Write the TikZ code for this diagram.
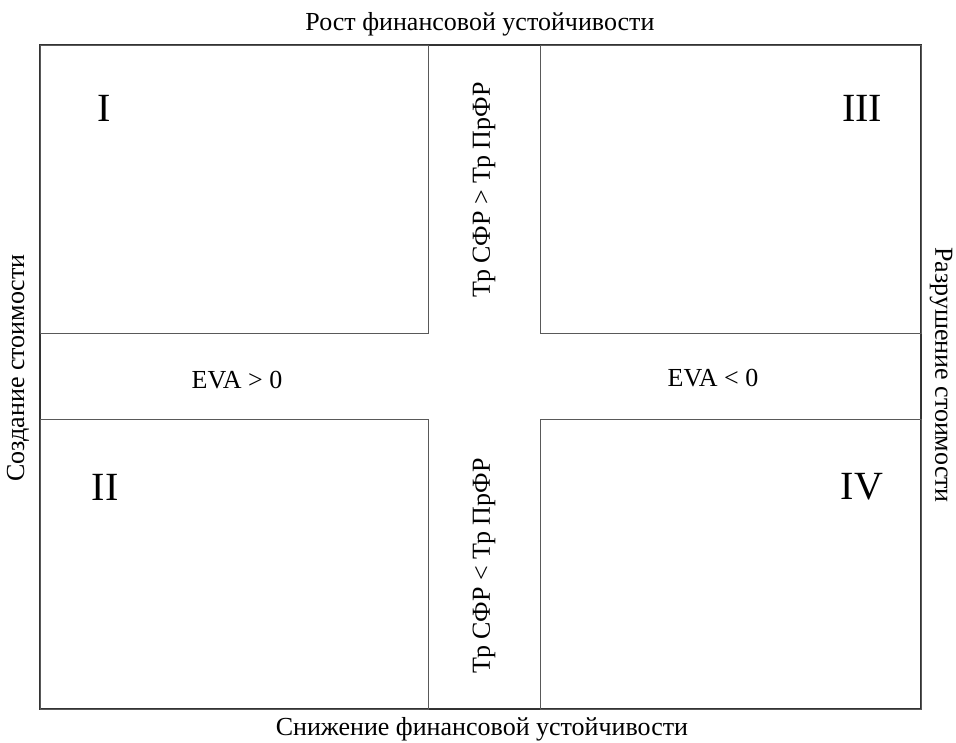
\documentclass[tikz,border=0pt]{standalone}
\usepackage{fontspec}
\setmainfont{Liberation Serif}
\usetikzlibrary{positioning}

\begin{document}
\begin{tikzpicture}[
    x=1pt, y=-1pt,
    quadrant/.style={rectangle, draw=black!65, line width=0.9pt, inner sep=0pt, outer sep=0pt},
    label/.style={font=\fontsize{26}{30}\selectfont, inner sep=0pt},
    numeral/.style={font=\fontsize{40}{44}\selectfont, inner sep=0pt}
]
\useasboundingbox (0,0) rectangle (956,742);

% Frame
\node[quadrant, draw=black!80, line width=1.3pt, minimum width=881pt, minimum height=664pt] (frame) at (480.5,377) {};

% Quadrants
\node[quadrant, minimum width=388pt, minimum height=288pt] (q1) at (234,189) {};
\node[quadrant, minimum width=381pt, minimum height=288pt] (q3) at (730.5,189) {};
\node[quadrant, minimum width=388pt, minimum height=290pt] (q2) at (234,564) {};
\node[quadrant, minimum width=381pt, minimum height=290pt] (q4) at (730.5,564) {};

% Numerals
\node[numeral] (n1) at (104,108) {I};
\node[numeral] (n3) at (862,108) {III};
\node[numeral] (n2) at (105,487) {II};
\node[numeral] (n4) at (862,487) {IV};

% Axis labels
\node[label] (top) at (480,24) {Рост финансовой устойчивости};
\node[label] (bottom) at (482,729) {Снижение финансовой устойчивости};
\node[label, rotate=90] (left) at (18,368) {Создание стоимости};
\node[label, rotate=-90] (right) at (941,375) {Разрушение стоимости};

% Middle band
\node[label] (evapos) at (237,380) {EVA > 0};
\node[label] (evaneg) at (713,378) {EVA < 0};
\node[label, rotate=90] (trup) at (484,190) {Тр СФР > Тр ПрФР};
\node[label, rotate=90] (trdown) at (484,566) {Тр СФР < Тр ПрФР};

\end{tikzpicture}
\end{document}
